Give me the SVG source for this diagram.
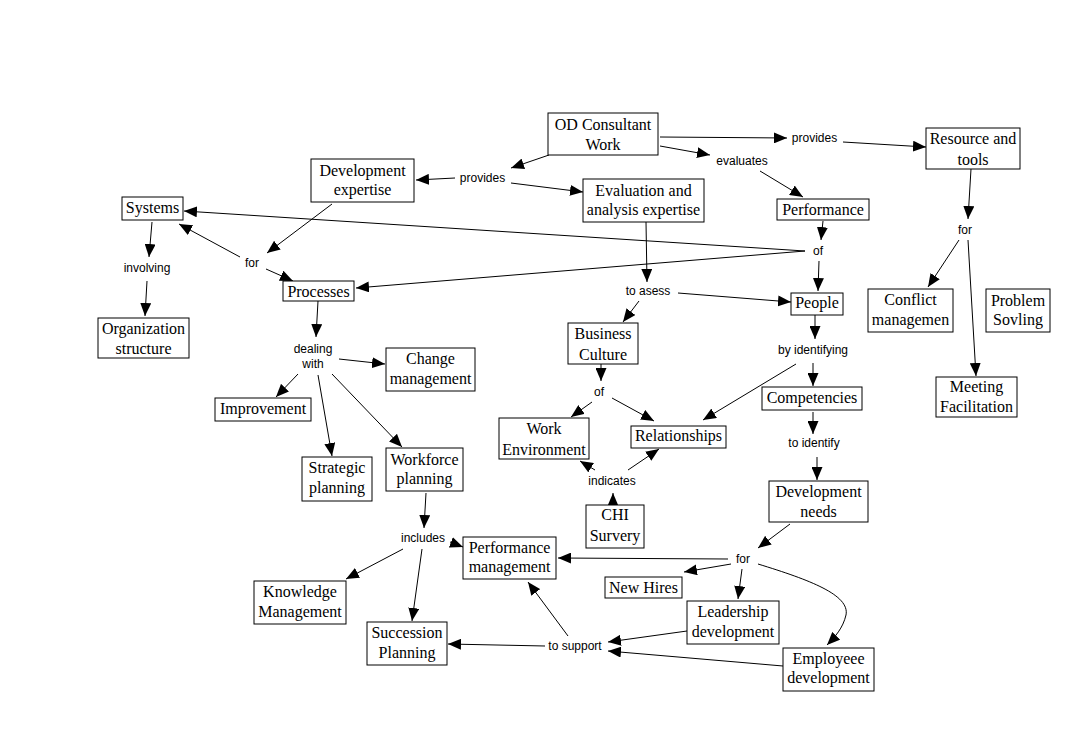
<svg xmlns="http://www.w3.org/2000/svg" width="1090" height="732" viewBox="0 0 1090 732">
<defs>
<marker id="arr" markerUnits="userSpaceOnUse" markerWidth="13" markerHeight="11" refX="13" refY="5.5" orient="auto">
<path d="M0,0 L13,5.5 L0,11 z" fill="#000"/>
</marker>
<style>
.n rect{fill:#fff;stroke:#000;stroke-width:1}
.n text{font-family:"Liberation Serif","Times New Roman",serif;font-size:16px;fill:#000;text-anchor:middle}
.l text{font-family:"Liberation Sans",Arial,sans-serif;font-size:12px;fill:#000;text-anchor:middle}
#connectors line,#connectors path{stroke:#000;stroke-width:1;fill:none;marker-end:url(#arr)}
</style>
</defs>
<rect width="1090" height="732" fill="#fff"/>
<g id="connectors">
<line x1="549" y1="155" x2="511" y2="168"/>
<line x1="455" y1="178" x2="416" y2="180"/>
<line x1="511" y1="183" x2="583" y2="192"/>
<line x1="660" y1="137" x2="787" y2="138"/>
<line x1="843" y1="142" x2="926" y2="147"/>
<line x1="660" y1="146" x2="710" y2="155"/>
<line x1="760" y1="171" x2="803" y2="197"/>
<line x1="971" y1="169" x2="968" y2="219"/>
<line x1="959" y1="240" x2="928" y2="287"/>
<line x1="968" y1="240" x2="976" y2="376"/>
<line x1="823" y1="221" x2="821" y2="240"/>
<line x1="819" y1="261" x2="818" y2="291"/>
<line x1="805" y1="251" x2="184" y2="211"/>
<line x1="805" y1="251" x2="356" y2="288"/>
<line x1="332" y1="204" x2="267" y2="253"/>
<line x1="240" y1="257" x2="179" y2="224"/>
<line x1="266" y1="269" x2="293" y2="281"/>
<line x1="152" y1="222" x2="149" y2="257"/>
<line x1="147" y1="281" x2="145" y2="316"/>
<line x1="318" y1="301" x2="316" y2="337"/>
<line x1="339" y1="359" x2="385" y2="364"/>
<line x1="298" y1="374" x2="276" y2="397"/>
<line x1="318" y1="375" x2="332" y2="456"/>
<line x1="332" y1="374" x2="402" y2="447"/>
<line x1="646" y1="222" x2="647" y2="282"/>
<line x1="678" y1="293" x2="791" y2="302"/>
<line x1="639" y1="301" x2="623" y2="322"/>
<line x1="601" y1="364" x2="601" y2="381"/>
<line x1="592" y1="402" x2="571" y2="417"/>
<line x1="612" y1="398" x2="654" y2="421"/>
<line x1="796" y1="364" x2="703" y2="420"/>
<line x1="815" y1="315" x2="815" y2="339"/>
<line x1="813" y1="363" x2="813" y2="386"/>
<line x1="813" y1="412" x2="813" y2="434"/>
<line x1="817" y1="457" x2="817" y2="480"/>
<line x1="595" y1="470" x2="580" y2="461"/>
<line x1="628" y1="470" x2="659" y2="449"/>
<line x1="613" y1="505" x2="613" y2="493"/>
<line x1="426" y1="493" x2="424" y2="528"/>
<line x1="403" y1="549" x2="346" y2="579"/>
<line x1="422" y1="549" x2="412" y2="621"/>
<line x1="450" y1="542" x2="463" y2="547"/>
<line x1="728" y1="559" x2="558" y2="558"/>
<line x1="790" y1="524" x2="758" y2="548"/>
<line x1="731" y1="564" x2="684" y2="572"/>
<line x1="742" y1="569" x2="738" y2="599"/>
<path d="M758,564 C810,580 850,595 846,615 C843,628 835,637 827,645"/>
<line x1="687" y1="631" x2="608" y2="642"/>
<line x1="783" y1="666" x2="608" y2="651"/>
<line x1="545" y1="646" x2="448" y2="644"/>
<line x1="568" y1="636" x2="528" y2="582"/>
</g>
<g id="labels" class="l">
<text x="482.5" y="182">provides</text>
<text x="814.5" y="142">provides</text>
<text x="742" y="165">evaluates</text>
<text x="965" y="234">for</text>
<text x="818" y="255">of</text>
<text x="252" y="267">for</text>
<text x="147" y="272">involving</text>
<text x="648" y="295">to asess</text>
<text x="313" y="353">dealing</text>
<text x="313" y="368">with</text>
<text x="813" y="354">by identifying</text>
<text x="599" y="396">of</text>
<text x="612" y="485">indicates</text>
<text x="814" y="447">to identify</text>
<text x="423" y="542">includes</text>
<text x="743" y="563">for</text>
<text x="575" y="650">to support</text>
</g>
<g id="od" class="n"><rect x="548" y="113" width="110" height="42"/><text x="603" y="130">OD Consultant</text><text x="603" y="150">Work</text></g>
<g id="devexp" class="n"><rect x="311" y="159" width="103" height="43"/><text x="362.5" y="176">Development</text><text x="362.5" y="195">expertise</text></g>
<g id="evalexp" class="n"><rect x="583" y="179" width="121" height="43"/><text x="643.5" y="196">Evaluation and</text><text x="643.5" y="215">analysis expertise</text></g>
<g id="resource" class="n"><rect x="926" y="128" width="94" height="41"/><text x="973" y="144">Resource and</text><text x="973" y="165">tools</text></g>
<g id="performance" class="n"><rect x="777" y="199" width="92" height="21"/><text x="823" y="215">Performance</text></g>
<g id="systems" class="n"><rect x="122" y="197" width="61" height="23"/><text x="152.5" y="213">Systems</text></g>
<g id="processes" class="n"><rect x="283" y="281" width="71" height="20"/><text x="318.5" y="297">Processes</text></g>
<g id="org" class="n"><rect x="98" y="318" width="91" height="40"/><text x="143.5" y="334">Organization</text><text x="143.5" y="354">structure</text></g>
<g id="change" class="n"><rect x="386" y="348" width="89" height="43"/><text x="430.5" y="364">Change</text><text x="430.5" y="384">management</text></g>
<g id="improvement" class="n"><rect x="215" y="398" width="96" height="23"/><text x="263" y="414">Improvement</text></g>
<g id="strategic" class="n"><rect x="302" y="457" width="70" height="44"/><text x="337" y="473">Strategic</text><text x="337" y="493">planning</text></g>
<g id="workforce" class="n"><rect x="386" y="448" width="77" height="43"/><text x="424.5" y="465">Workforce</text><text x="424.5" y="484">planning</text></g>
<g id="business" class="n"><rect x="568" y="323" width="70" height="41"/><text x="603" y="339">Business</text><text x="603" y="360">Culture</text></g>
<g id="workenv" class="n"><rect x="499" y="418" width="90" height="41"/><text x="544" y="434">Work</text><text x="544" y="455">Environment</text></g>
<g id="relationships" class="n"><rect x="631" y="426" width="95" height="22"/><text x="678.5" y="441">Relationships</text></g>
<g id="people" class="n"><rect x="791" y="293" width="52" height="22"/><text x="817" y="308">People</text></g>
<g id="competencies" class="n"><rect x="762" y="387" width="100" height="23"/><text x="812" y="403">Competencies</text></g>
<g id="conflict" class="n"><rect x="868" y="289" width="85" height="43"/><text x="910.5" y="305">Conflict</text><text x="910.5" y="325">managemen</text></g>
<g id="problem" class="n"><rect x="986" y="289" width="64" height="43"/><text x="1018" y="306">Problem</text><text x="1018" y="325">Sovling</text></g>
<g id="meeting" class="n"><rect x="936" y="377" width="81" height="40"/><text x="976.5" y="392">Meeting</text><text x="976.5" y="412">Facilitation</text></g>
<g id="devneeds" class="n"><rect x="769" y="481" width="99" height="41"/><text x="818.5" y="497">Development</text><text x="818.5" y="517">needs</text></g>
<g id="chi" class="n"><rect x="586" y="505" width="58" height="43"/><text x="615" y="520">CHI</text><text x="615" y="541">Survery</text></g>
<g id="perfmgmt" class="n"><rect x="463" y="537" width="93" height="42"/><text x="509.5" y="553">Performance</text><text x="509.5" y="572">management</text></g>
<g id="knowledge" class="n"><rect x="254" y="581" width="92" height="43"/><text x="300" y="597">Knowledge</text><text x="300" y="617">Management</text></g>
<g id="succession" class="n"><rect x="367" y="622" width="80" height="43"/><text x="407" y="638">Succession</text><text x="407" y="658">Planning</text></g>
<g id="newhires" class="n"><rect x="605" y="577" width="77" height="21"/><text x="643.5" y="593">New Hires</text></g>
<g id="leadership" class="n"><rect x="687" y="601" width="92" height="43"/><text x="733" y="617">Leadership</text><text x="733" y="637">development</text></g>
<g id="employee" class="n"><rect x="783" y="648" width="91" height="43"/><text x="828.5" y="664">Employeee</text><text x="828.5" y="683">development</text></g>
</svg>
